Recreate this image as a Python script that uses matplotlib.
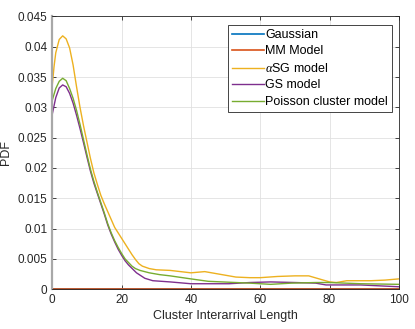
import matplotlib.pyplot as plt

plt.rcParams['font.family'] = ['Liberation Sans', 'DejaVu Sans']
plt.rcParams['mathtext.fontset'] = 'custom'
plt.rcParams['mathtext.it'] = 'Liberation Serif:italic'

# Gaussian and MM model sit on zero over the whole range
x_flat = [0, 100]
gauss = [0, 0]
mm = [0, 0]

x_asg = [0, 0.5, 1, 2, 3, 4, 5, 6, 7, 8, 9, 10, 11, 12, 13, 14, 15, 16, 17, 18, 19,
         20, 21, 22, 23, 24, 25, 26, 28, 30, 34, 37, 40, 44, 47, 50, 53, 57, 60,
         65, 70, 74, 77, 80, 82, 85, 92, 96, 100]
asg = [0.0337, 0.0367, 0.0390, 0.0412, 0.0418, 0.0413, 0.0398, 0.0370, 0.0334,
       0.0300, 0.0270, 0.0243, 0.0216, 0.0192, 0.0173, 0.0155, 0.0141, 0.0128,
       0.0115, 0.0102, 0.0093, 0.0084, 0.0075, 0.0066, 0.0057, 0.0049, 0.0042,
       0.0038, 0.0034, 0.0032, 0.0031, 0.0029, 0.0027, 0.0029, 0.0026, 0.0023,
       0.0020, 0.0019, 0.0019, 0.0021, 0.0022, 0.0022, 0.0017, 0.0012, 0.0011,
       0.0014, 0.0014, 0.0015, 0.0017]

x_gs = [0, 1, 2, 3, 4, 5, 6, 7, 8, 9, 10, 11, 12, 13, 14, 15, 16, 17, 18, 19, 20,
        21, 22, 24.3, 26.7, 29, 34, 40, 45, 51, 57, 63, 70, 76, 79, 89, 100]
gs = [0.0289, 0.0316, 0.0332, 0.0337, 0.0334, 0.0323, 0.0307, 0.0287, 0.0265,
      0.0242, 0.0218, 0.0195, 0.0175, 0.0158, 0.0141, 0.0124, 0.0106, 0.0091,
      0.0078, 0.0066, 0.0056, 0.0047, 0.0040, 0.0027, 0.0018, 0.0014, 0.0012,
      0.0009, 0.0009, 0.0009, 0.0011, 0.0012, 0.0011, 0.0010, 0.0007, 0.0007,
      0.0004]

x_pc = [0, 1, 2, 3, 4, 5, 6, 7, 8, 9, 10, 11, 12, 13, 14, 15, 16, 17, 18, 19, 20,
        21, 22, 23, 24, 25.3, 28, 31, 34, 40, 45, 51, 57, 63, 69, 76, 80, 89, 100]
pc = [0.0312, 0.0331, 0.0343, 0.0348, 0.0344, 0.0331, 0.0315, 0.0295, 0.0272,
      0.0247, 0.0222, 0.0198, 0.0178, 0.0160, 0.0143, 0.0126, 0.0108, 0.0093,
      0.0080, 0.0069, 0.0059, 0.0050, 0.0044, 0.0038, 0.0034, 0.0031, 0.0027,
      0.0024, 0.0022, 0.0017, 0.0013, 0.00115, 0.0010, 0.0008, 0.0010, 0.0011,
      0.0011, 0.0009, 0.0008]

fig = plt.figure(figsize=(4.15, 3.29), dpi=100)
ax = fig.add_axes([0.126, 0.121, 0.835, 0.829])

ax.plot(x_flat, gauss, color='#0072BD', lw=1.2, label='Gaussian', clip_on=False)
ax.plot(x_flat, mm, color='#D95319', lw=1.2, label='MM Model', clip_on=False)
ax.plot(x_asg, asg, color='#EDB120', lw=1, label=r'$\alpha$SG model')
ax.plot(x_gs, gs, color='#7E2F8E', lw=1, label='GS model')
ax.plot(x_pc, pc, color='#77AC30', lw=1, label='Poisson cluster model')

ax.set_xlim(0, 100)
ax.set_ylim(0, 0.045)
ax.set_xticks([0, 20, 40, 60, 80, 100])
ax.set_yticks([0, 0.005, 0.01, 0.015, 0.02, 0.025, 0.03, 0.035, 0.04, 0.045])
ax.set_yticklabels(['0', '0.005', '0.01', '0.015', '0.02', '0.025', '0.03',
                    '0.035', '0.04', '0.045'])
ax.grid(True, color='#e0e0e0', lw=0.6)
ax.set_axisbelow(True)
ax.tick_params(direction='in', length=3, width=0.6, top=True, right=True,
               labelsize=8.5, colors='#262626')
for s in ax.spines.values():
    s.set_linewidth(0.6)
    s.set_color('#262626')
ax.spines['left'].set_color('#a8a8a8')
ax.spines['left'].set_linewidth(1.6)

ax.set_xlabel('Cluster Interarrival Length', fontsize=9, color='#262626', labelpad=3)
ax.set_ylabel('PDF', fontsize=9, color='#262626', labelpad=4)

leg = ax.legend(loc='upper right', bbox_to_anchor=(0.98, 0.968), fontsize=9,
                fancybox=False, framealpha=1, edgecolor='#262626',
                borderpad=0.3, labelspacing=0.36, handlelength=2.6,
                handletextpad=0.1, borderaxespad=0)
leg.get_frame().set_linewidth(0.6)

fig.savefig('out.png', dpi=100)
